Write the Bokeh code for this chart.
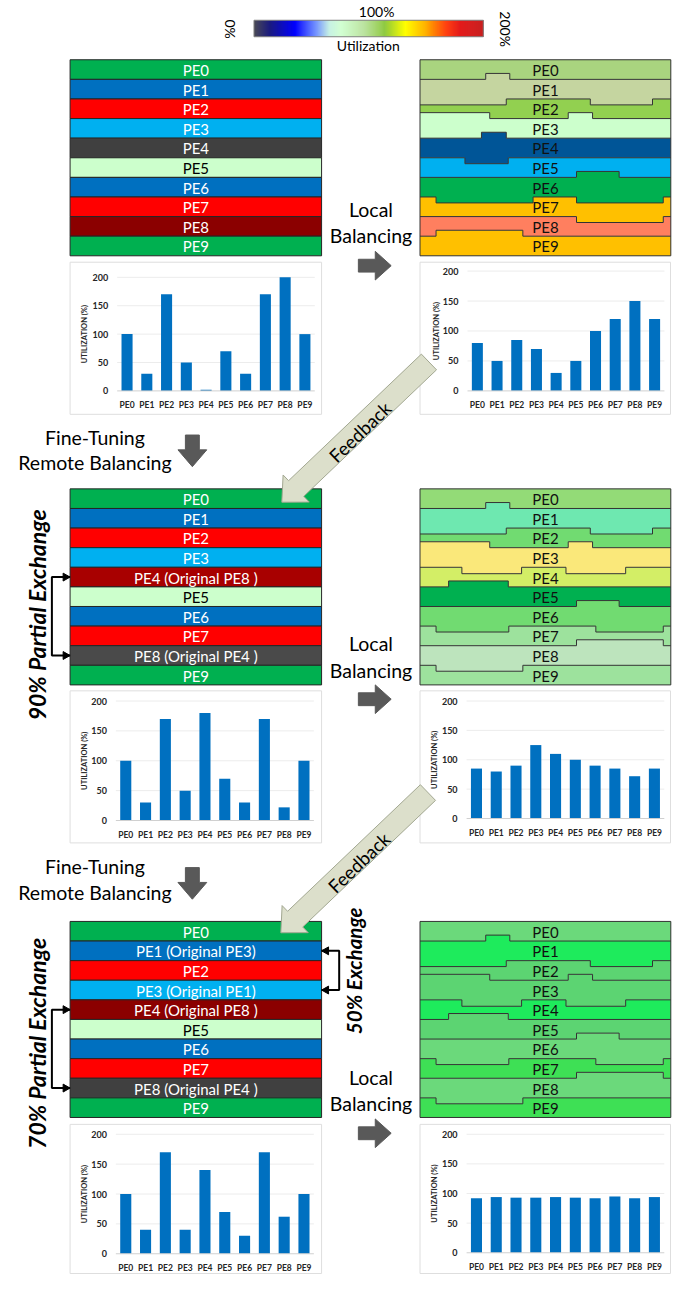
import math
import numpy as np
from bokeh.plotting import figure
from bokeh.models import Range1d
from bokeh.core.properties import value
from bokeh.embed import file_html
from bokeh.resources import INLINE

# ---------------- data ----------------
PES = ["PE0", "PE1", "PE2", "PE3", "PE4", "PE5", "PE6", "PE7", "PE8", "PE9"]
TICKS = [0, 50, 100, 150, 200]
Y_TITLE = "UTILIZATION (%)"

util_initial = [100, 30, 170, 50, 2, 70, 30, 170, 200, 100]
util_local_1 = [80, 50, 85, 70, 30, 50, 100, 120, 150, 120]
util_remote_90 = [100, 30, 170, 50, 180, 70, 30, 170, 22, 100]
util_local_2 = [85, 80, 90, 125, 110, 100, 90, 85, 72, 85]
util_remote_70 = [100, 40, 170, 40, 140, 70, 30, 170, 62, 100]
util_local_3 = [92, 94, 93, 93, 94, 93, 92, 95, 92, 94]

labels_initial = PES
labels_remote_90 = ["PE0", "PE1", "PE2", "PE3", "PE4 (Original PE8 )", "PE5",
                    "PE6", "PE7", "PE8 (Original PE4 )", "PE9"]
labels_remote_70 = ["PE0", "PE1 (Original PE3)", "PE2", "PE3 (Original PE1)",
                    "PE4 (Original PE8 )", "PE5", "PE6", "PE7",
                    "PE8 (Original PE4 )", "PE9"]

CBAR_MIN, CBAR_MID, CBAR_MAX, CBAR_TITLE = "0%", "100%", "200%", "Utilization"
TXT_LOCAL = ["Local", "Balancing"]
TXT_REMOTE = ["Fine-Tuning", "Remote Balancing"]
TXT_FEEDBACK = "Feedback"
TXT_EX90 = "90% Partial Exchange"
TXT_EX70 = "70% Partial Exchange"
TXT_EX50 = "50% Exchange"

# ---------------- styles ----------------
FONT = "Lato"
BAR_COLOR = "#0070C0"
left_colors_1 = ["#00B050", "#0070C0", "#FF0000", "#00B0F0", "#404040",
                 "#CCFFCC", "#0070C0", "#FF0000", "#8B0000", "#00B050"]
left_colors_2 = ["#00B050", "#0070C0", "#FF0000", "#00B0F0", "#A80000",
                 "#CCFFCC", "#0070C0", "#FF0000", "#4A4A4A", "#00B050"]
left_colors_3 = ["#00B050", "#0070C0", "#FF0000", "#00B0F0", "#8B0000",
                 "#CCFFCC", "#0070C0", "#FF0000", "#404040", "#00B050"]
right_colors_1 = ["#A9D47F", "#C5D5A0", "#92D050", "#CCFFCC", "#005597",
                  "#00B0F0", "#00B050", "#FFC000", "#FF7F5F", "#FFC000"]
right_colors_2 = ["#93DB77", "#6EE8B0", "#71DB71", "#FAE87A", "#D3EE66",
                  "#00B050", "#71DB71", "#9DE29D", "#BDE4BD", "#9DE29D"]
right_colors_3 = ["#6BD97B", "#1EEB5C", "#5CD472", "#5CD472", "#1EEB5C",
                  "#5CD472", "#6BD97B", "#3EE055", "#6BD97B", "#3EE055"]
light_fills = {"#CCFFCC"}

# step profile of the boundaries in the locally balanced panels
# (fraction start, fraction end, offset px)
steps_1 = [[(0.262, 0.358, -6)],
           [(0.0, 0.344, 6), (0.679, 0.927, 6)],
           [(0.0, 0.278, -6), (0.591, 0.688, -6)],
           [(0.245, 0.344, -6)],
           [(0.179, 0.352, 6)],
           [(0.624, 0.794, -6)],
           [(0.064, 0.451, 6), (0.624, 0.970, 6)],
           [(0.624, 0.970, 6)],
           [(0.064, 0.410, -6)]]
steps_23 = [[(0.262, 0.358, -6)],
            [(0.0, 0.344, 6), (0.679, 0.927, 6)],
            [(0.0, 0.278, -6), (0.591, 0.688, -6)],
            [(0.167, 0.405, 6.5), (0.582, 0.820, 6.5)],
            [(0.114, 0.352, -6)],
            [(0.624, 0.794, -6)],
            [(0.064, 0.354, 6), (0.701, 0.970, 6)],
            [(0.624, 0.970, -6)],
            [(0.064, 0.410, 6)]]

# ---------------- canvas ----------------
W, H = 672, 1274
X0, X1 = 0.0, 676.0
Y0, Y1 = 0.0, 1290.0
KX = W / (X1 - X0)
KY = H / (Y1 - Y0)

p = figure(width=W, height=H, x_range=Range1d(X0, X1), y_range=Range1d(Y1, Y0),
           output_backend="svg", toolbar_location=None, x_axis_type=None,
           y_axis_type=None, min_border=0, title=None, outline_line_color=None)
p.background_fill_color = "white"
p.border_fill_color = "white"
p.grid.visible = False


def txt(x, y, s, size, color="black", style="normal", angle=0, align="center",
        baseline="middle", font=FONT):
    p.text(x=[x], y=[y], text=[s], text_font=value(font),
           text_font_size=value(f"{size}px"), text_color=color,
           text_font_style=style, angle=angle, angle_units="deg",
           text_align=align, text_baseline=baseline)


def fx(x):
    return (x - X0) * KX


def fy(y):
    return (y - Y0) * KY


# ---------------- colour bar ----------------
stops = [(0.00, "#4a4a55"), (0.07, "#1a1a80"), (0.18, "#0000ff"), (0.27, "#6688ff"),
         (0.33, "#c0f0e0"), (0.38, "#ccffcc"), (0.48, "#b4e096"), (0.57, "#8cc83c"),
         (0.66, "#ffff00"), (0.75, "#ffb000"), (0.84, "#ff3300"), (0.90, "#e00000"),
         (1.00, "#c00000")]


def hex2rgb(h):
    h = h.lstrip("#")
    return [int(h[i:i + 2], 16) for i in (0, 2, 4)]


sf = np.array([s[0] for s in stops])
sc = np.array([hex2rgb(s[1]) for s in stops], dtype=float)
cb_l, cb_r, cb_t, cb_b = 255.0, 485.7, 20.0, 36.7
n_cb = 231
edges = np.linspace(cb_l, cb_r, n_cb + 1)
fr = (np.arange(n_cb) + 0.5) / n_cb
cols = []
for f in fr:
    rgb = [np.interp(f, sf, sc[:, k]) for k in range(3)]
    cols.append("#%02x%02x%02x" % tuple(int(round(c)) for c in rgb))
p.quad(left=edges[:-1], right=edges[1:] + 0.3, top=cb_t, bottom=cb_b,
       fill_color=cols, line_color=None)
p.quad(left=[cb_l], right=[cb_r], top=[cb_t], bottom=[cb_b], fill_color=None,
       line_color="#808080", line_width=1)
txt(378.3, 11.5, CBAR_MID, 14)
txt(370.0, 46.0, CBAR_TITLE, 14)
txt(231.7, 29.0, CBAR_MIN, 14, angle=-90)
txt(508.3, 29.0, CBAR_MAX, 14, angle=-90)

# ---------------- strips ----------------
LX0, LX1 = 70.0, 323.0
RX0, RX1 = 422.0, 674.3
TOPS = [60.0, 494.5, 932.5]
STRIP_H = 198.5
SH = STRIP_H / 10
LABEL_PX = 15


def left_strip(top, colors, labels):
    tops = [top + i * SH for i in range(10)]
    p.quad(left=LX0, right=LX1, top=tops, bottom=[t + SH for t in tops],
           fill_color=colors, line_color="#262626", line_width=1)
    for i, (c, s) in enumerate(zip(colors, labels)):
        tc = "black" if c in light_fills else "white"
        txt((LX0 + LX1) / 2, tops[i] + SH / 2 + 0.5, s, LABEL_PX, color=tc)


def boundary_points(yb, segs):
    bps = sorted(set([0.0, 1.0] + [a for a, b, o in segs] + [b for a, b, o in segs]))
    xs, ys = [], []
    for a, b in zip(bps[:-1], bps[1:]):
        m = (a + b) / 2
        off = 0
        for s0, s1, o in segs:
            if s0 <= m <= s1:
                off = o
        xs += [RX0 + a * (RX1 - RX0), RX0 + b * (RX1 - RX0)]
        ys += [yb + off, yb + off]
    return xs, ys


def right_strip(top, colors, steps):
    bnds = [boundary_points(top + (i + 1) * SH, steps[i]) for i in range(9)]
    pxs, pys = [], []
    for i in range(10):
        if i == 0:
            tx, ty = [RX0, RX1], [top, top]
        else:
            tx, ty = bnds[i - 1]
        if i == 9:
            bx, by = [RX0, RX1], [top + STRIP_H, top + STRIP_H]
        else:
            bx, by = bnds[i]
        pxs.append(list(tx) + list(reversed(bx)))
        pys.append(list(ty) + list(reversed(by)))
    p.patches(xs=pxs, ys=pys, fill_color=colors, line_color=None)
    p.multi_line(xs=[b[0] for b in bnds], ys=[b[1] for b in bnds],
                 line_color="#333333", line_width=1)
    p.quad(left=[RX0], right=[RX1], top=[top], bottom=[top + STRIP_H],
           fill_color=None, line_color="#333333", line_width=1)
    for i in range(10):
        txt((RX0 + RX1) / 2, top + i * SH + SH / 2 + 0.5, PES[i], LABEL_PX,
            color="#111111")


left_strip(TOPS[0], left_colors_1, labels_initial)
left_strip(TOPS[1], left_colors_2, labels_remote_90)
left_strip(TOPS[2], left_colors_3, labels_remote_70)
right_strip(TOPS[0], right_colors_1, steps_1)
right_strip(TOPS[1], right_colors_2, steps_23)
right_strip(TOPS[2], right_colors_3, steps_23)


# ---------------- bar charts ----------------
def bar_panel(key, vals, box, c0, dx, y0p, y200p, ylab_x):
    n = len(PES)
    pdx = dx * KX
    span_x = W / pdx
    xs = -fx(c0) / pdx
    p.extra_x_ranges[key] = Range1d(xs, xs + span_x)
    P0, P200 = fy(y0p), fy(y200p)
    vmax = TICKS[-1]
    span_y = H * vmax / (P0 - P200)
    ye = vmax + P200 * span_y / H
    p.extra_y_ranges[key] = Range1d(ye - span_y, ye)

    bl, br, bt, bb = box
    p.quad(left=[bl], right=[br], top=[bt], bottom=[bb], fill_color="white",
           line_color="#dedede", line_width=1)
    kw = dict(x_range_name=key, y_range_name=key)
    p.segment(x0=[-0.5] * (len(TICKS) - 1), x1=[n - 0.5] * (len(TICKS) - 1),
              y0=TICKS[1:], y1=TICKS[1:], line_color="#ececec", line_width=1, **kw)
    p.vbar(x=list(range(n)), top=vals, bottom=0, width=0.56, fill_color=BAR_COLOR,
           line_color=None, **kw)
    p.segment(x0=[-0.5], x1=[n - 0.5], y0=[0], y1=[0], line_color="#d0d0d0",
              line_width=1, **kw)
    p.text(x=[-0.5] * len(TICKS), y=TICKS, text=[str(t) for t in TICKS],
           x_offset=-9, text_align="right", text_baseline="middle",
           text_font=value(FONT), text_font_size=value("9px"),
           text_font_style="bold", text_color="#262626", **kw)
    p.text(x=list(range(n)), y=[0] * n, text=PES, y_offset=14,
           text_align="center", text_baseline="middle", text_font=value(FONT),
           text_font_size=value("8.5px"), text_font_style="bold",
           text_color="#262626", **kw)
    txt(ylab_x, (y0p + y200p) / 2, Y_TITLE, 7.5, color="#262626", style="bold",
        angle=90)


bar_panel("r1l", util_initial, (70, 323, 265, 419), 127.3, 19.88, 395.3, 280.3, 85)
bar_panel("r1r", util_local_1, (422, 674, 265, 419), 479.7, 19.81, 395.3, 274.0, 439)
bar_panel("r2l", util_remote_90, (70, 323, 699, 853), 126.0, 19.92, 830.3, 709.3, 84)
bar_panel("r2r", util_local_2, (422, 674, 699, 853), 478.8, 19.89, 828.3, 709.3, 437)
bar_panel("r3l", util_remote_70, (70, 323, 1138, 1289), 126.0, 19.92, 1269.0, 1148.0, 84)
bar_panel("r3r", util_local_3, (422, 674, 1138, 1289), 478.8, 19.89, 1268.0, 1148.0, 437)


# ---------------- arrows ----------------
def block_arrow(tail, tip, shaft_hw, head_hw, head_len, fill, line=None):
    tx, ty = tail
    px, py = tip
    L = math.hypot(px - tx, py - ty)
    ux, uy = (px - tx) / L, (py - ty) / L
    nx, ny = -uy, ux
    bx, by = px - ux * head_len, py - uy * head_len
    pts = [(tx + nx * shaft_hw, ty + ny * shaft_hw),
           (bx + nx * shaft_hw, by + ny * shaft_hw),
           (bx + nx * head_hw, by + ny * head_hw),
           (px, py),
           (bx - nx * head_hw, by - ny * head_hw),
           (bx - nx * shaft_hw, by - ny * shaft_hw),
           (tx - nx * shaft_hw, ty - ny * shaft_hw)]
    p.patch(x=[q[0] for q in pts], y=[q[1] for q in pts], fill_color=fill,
            line_color=line if line else fill, line_width=1)


DARK = "#595959"
for (ly, by_, ay) in [(211.7, 238.0, 268.5), (651.5, 678.0, 707.5), (1090.7, 1117.0, 1147.0)]:
    txt(372.7, ly, TXT_LOCAL[0], 19.5)
    txt(372.7, by_, TXT_LOCAL[1], 19.5)
    block_arrow((360, ay), (393, ay), 6.5, 14.5, 16, DARK)

for (fy_, ry, ay) in [(442.7, 468.3, 440.0), (876.7, 902.7, 878.0)]:
    txt(95, fy_, TXT_REMOTE[0], 19.5)
    txt(95, ry, TXT_REMOTE[1], 19.5)
    block_arrow((193, ay), (193, ay + 32), 7, 14.5, 17, DARK)

for dx_, dy_ in [(0, 0), (-1, 436)]:
    block_arrow((431 + dx_, 366 + dy_), (283 + dx_, 508 + dy_), 11, 19, 20,
                "#DCDFCB", "#A3A892")
    txt(361.7 + dx_, 437.0 + dy_, TXT_FEEDBACK, 18.5, angle=44)


# ---------------- exchange brackets ----------------
def bracket(xv, ya, yb, xe):
    p.line(x=[xe, xv, xv, xe], y=[ya, ya, yb, yb], line_color="black", line_width=2)
    d = 1 if xe > xv else -1
    for yy in (ya, yb):
        p.patch(x=[xe, xe - d * 7, xe - d * 7], y=[yy, yy - 4, yy + 4],
                fill_color="black", line_color="black", line_width=1)


bracket(51.7, TOPS[1] + 4.5 * SH, TOPS[1] + 8.5 * SH, LX0)
bracket(51.7, TOPS[2] + 4.5 * SH, TOPS[2] + 8.5 * SH, LX0)
bracket(340.7, TOPS[2] + 1.5 * SH, TOPS[2] + 3.5 * SH, LX1)

txt(37, 622, TXT_EX90, 23, style="bold italic", angle=90)
txt(37, 1056, TXT_EX70, 23, style="bold italic", angle=90)
txt(356, 982.5, TXT_EX50, 20.5, style="bold italic", angle=90)

open("out.html", "w").write(file_html(p, INLINE))
